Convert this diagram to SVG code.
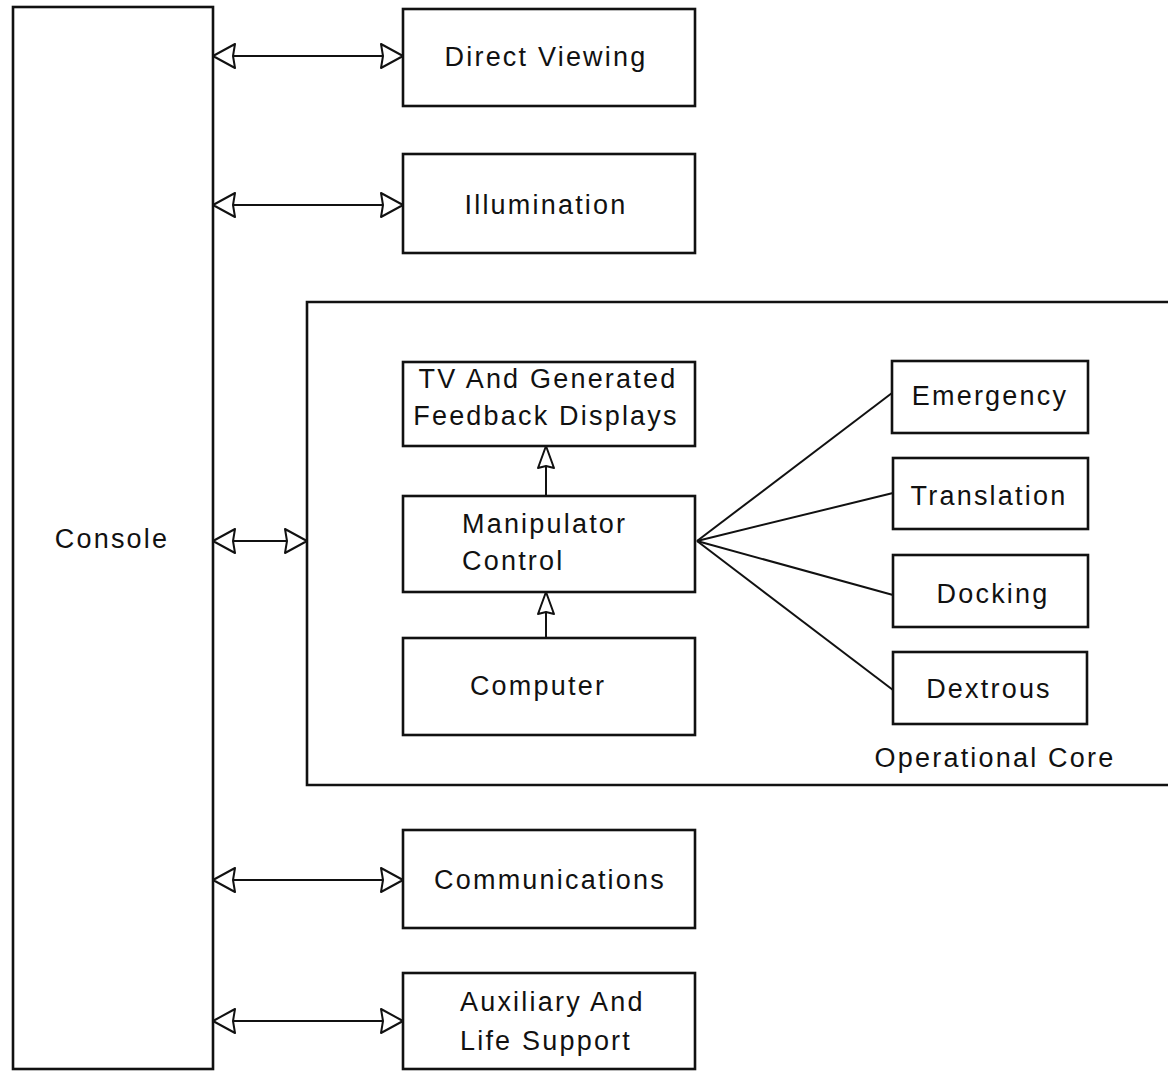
<svg xmlns="http://www.w3.org/2000/svg" width="1168" height="1073" viewBox="0 0 1168 1073">
<style>
.box{fill:#fff;stroke:#111;stroke-width:2.6}
.t{font-family:"Liberation Sans",Arial,sans-serif;font-size:27px;fill:#111;letter-spacing:2.2px}
.c{text-anchor:middle}
.ln{stroke:#111;stroke-width:2;fill:none}
.ah{fill:#fff;stroke:#111;stroke-width:2;stroke-linejoin:round}
</style>
<defs>
<path id="arrR" d="M0,0 L-22,-12 L-20,0 L-22,12 Z"/>
</defs>
<rect width="1168" height="1073" fill="#fff"/>
<g id="operational-core">
<path class="box" d="M1170,302 L307,302 L307,785 L1170,785"/>
<text class="t c" x="995" y="767">Operational Core</text>
</g>
<g id="console"><rect class="box" x="13" y="7" width="200" height="1062"/><text class="t c" x="112" y="548">Console</text></g>
<g id="direct-viewing"><rect class="box" x="403" y="9" width="292" height="97"/><text class="t c" x="546" y="66">Direct Viewing</text></g>
<g id="illumination"><rect class="box" x="403" y="154" width="292" height="99"/><text class="t c" x="546" y="214">Illumination</text></g>
<g id="tv-displays"><rect class="box" x="403" y="362" width="292" height="84"/><text class="t c" x="548" y="388">TV And Generated</text><text class="t c" x="546" y="425">Feedback Displays</text></g>
<g id="manipulator-control"><rect class="box" x="403" y="496" width="292" height="96"/><text class="t" x="462" y="533">Manipulator</text><text class="t" x="462" y="570">Control</text></g>
<g id="computer"><rect class="box" x="403" y="638" width="292" height="97"/><text class="t c" x="538" y="695">Computer</text></g>
<g id="emergency"><rect class="box" x="892" y="361" width="196" height="72"/><text class="t c" x="990" y="405">Emergency</text></g>
<g id="translation"><rect class="box" x="893" y="458" width="195" height="71"/><text class="t c" x="989" y="505">Translation</text></g>
<g id="docking"><rect class="box" x="893" y="555" width="195" height="72"/><text class="t c" x="993" y="603">Docking</text></g>
<g id="dextrous"><rect class="box" x="893" y="652" width="194" height="72"/><text class="t c" x="989" y="698">Dextrous</text></g>
<g id="communications"><rect class="box" x="403" y="830" width="292" height="98"/><text class="t c" x="550" y="889">Communications</text></g>
<g id="auxiliary"><rect class="box" x="403" y="973" width="292" height="96"/><text class="t" x="460" y="1011">Auxiliary And</text><text class="t" x="460" y="1050">Life Support</text></g>
<g id="connectors">
<line class="ln" x1="233" y1="56" x2="383" y2="56"/>
<use href="#arrR" class="ah" transform="translate(213,56) rotate(180)"/>
<use href="#arrR" class="ah" transform="translate(403,56)"/>
<line class="ln" x1="233" y1="205" x2="383" y2="205"/>
<use href="#arrR" class="ah" transform="translate(213,205) rotate(180)"/>
<use href="#arrR" class="ah" transform="translate(403,205)"/>
<line class="ln" x1="233" y1="541" x2="287" y2="541"/>
<use href="#arrR" class="ah" transform="translate(213,541) rotate(180)"/>
<use href="#arrR" class="ah" transform="translate(307,541)"/>
<line class="ln" x1="233" y1="880" x2="383" y2="880"/>
<use href="#arrR" class="ah" transform="translate(213,880) rotate(180)"/>
<use href="#arrR" class="ah" transform="translate(403,880)"/>
<line class="ln" x1="233" y1="1021" x2="383" y2="1021"/>
<use href="#arrR" class="ah" transform="translate(213,1021) rotate(180)"/>
<use href="#arrR" class="ah" transform="translate(403,1021)"/>
<line class="ln" x1="546" y1="496" x2="546" y2="466"/>
<path class="ah" d="M546,446 L554,468 L546,466 L538,468 Z"/>
<line class="ln" x1="546" y1="638" x2="546" y2="612"/>
<path class="ah" d="M546,592 L554,614 L546,612 L538,614 Z"/>
<line class="ln" x1="697" y1="541" x2="892" y2="393"/>
<line class="ln" x1="697" y1="541" x2="893" y2="493"/>
<line class="ln" x1="697" y1="541" x2="893" y2="595"/>
<line class="ln" x1="697" y1="541" x2="893" y2="690"/>
</g>
</svg>
